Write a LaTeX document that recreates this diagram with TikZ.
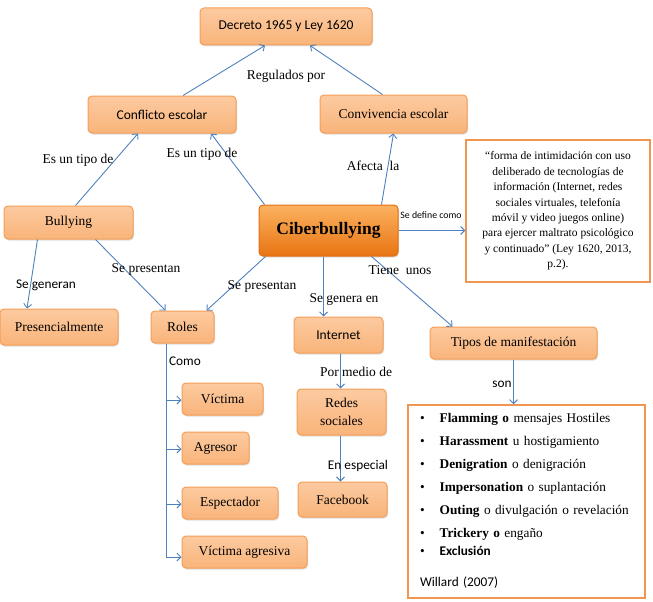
\documentclass[tikz,border=0pt]{standalone}
\usepackage{fontspec}
\setmainfont{Liberation Serif}
\newfontfamily\calibri{Carlito}
\usetikzlibrary{arrows.meta,shadows}
\definecolor{boxfill}{RGB}{249,180,122}
\definecolor{boxtop}{RGB}{252,202,160}
\definecolor{boxedge}{RGB}{244,158,88}
\definecolor{cibtop}{RGB}{252,178,96}
\definecolor{cibbot}{RGB}{232,116,18}
\definecolor{cibedge}{RGB}{226,110,20}
\definecolor{arrowblue}{RGB}{79,129,189}
\definecolor{frameorange}{RGB}{240,150,80}
\begin{document}
\begin{tikzpicture}[x=1pt, y=-1pt, >={Straight Barb[length=4pt,width=8pt]},
    main/.style = {draw=boxedge, line width=1pt, rounded corners=4pt, top color=boxtop, bottom color=boxfill,
                   inner sep=0pt, font=\fontsize{13.5}{15}\selectfont,
                   drop shadow={opacity=0.25, shadow xshift=1pt, shadow yshift=-1.5pt}},
    sans/.style = {main, font=\calibri\fontsize{13.5}{15}\selectfont},
    cib/.style = {main, draw=cibedge, top color=cibtop, bottom color=cibbot, font=\bfseries\fontsize{17.5}{20}\selectfont},
    frame/.style = {draw=frameorange, line width=1.5pt, fill=white, inner sep=0pt},
    arr/.style = {->, draw=arrowblue, line width=0.9pt},
    lbl/.style = {inner sep=0pt, font=\fontsize{13.5}{15}\selectfont},
    slbl/.style = {inner sep=0pt, font=\calibri\fontsize{13.3}{15}\selectfont}]
\useasboundingbox (0,0) rectangle (653,602);

% boxes
\node[sans, minimum width=172pt, minimum height=37pt] (dec) at (286,26.5) {Decreto 1965 y Ley 1620};
\node[sans, minimum width=148pt, minimum height=37pt] (conf) at (162,114.5) {Conflicto escolar};
\node[main, minimum width=147pt, minimum height=38pt] (conv) at (393.5,114) {Convivencia escolar};
\node[main, minimum width=129pt, minimum height=33pt] (bul) at (68.5,222.5) {Bullying};
\node[cib, minimum width=139pt, minimum height=51pt] (cib) at (328.5,230.5) {Ciberbullying};
\node[frame, minimum width=184pt, minimum height=142pt, align=center,
      font=\fontsize{11.5}{15.4}\selectfont] (def) at (558,211)
  {“forma de intimidación con uso\\ deliberado de tecnologías de\\ información (Internet, redes\\
   sociales virtuales, telefonía\\ móvil y video juegos online)\\ para ejercer maltrato psicológico\\
   y continuado" (Ley 1620, 2013,\\ p.2).};
\node[main, minimum width=118pt, minimum height=36pt] (pres) at (59,327) {Presencialmente};
\node[main, minimum width=63pt, minimum height=32pt] (roles) at (182.5,327) {Roles};
\node[sans, minimum width=89pt, minimum height=36pt] (int) at (338.5,335) {Internet};
\node[main, minimum width=167pt, minimum height=32pt] (tipos) at (513.5,343) {Tipos de manifestación};
\node[main, minimum width=81pt, minimum height=32pt] (vic) at (222.5,399) {Víctima};
\node[main, minimum width=67pt, minimum height=32pt] (agr) at (215.5,448) {Agresor};
\node[main, minimum width=96pt, minimum height=32pt] (esp) at (230,503) {Espectador};
\node[main, minimum width=125pt, minimum height=32pt] (vag) at (244.5,552) {Víctima agresiva};
\node[main, minimum width=89pt, minimum height=46pt, align=center, font=\fontsize{13.5}{18}\selectfont] (red) at (341.5,412) {Redes\\ sociales};
\node[main, minimum width=89pt, minimum height=35pt] (fb) at (342.5,499.5) {Facebook};
\node[frame, minimum width=237pt, minimum height=193pt, text width=213pt, inner xsep=12pt, align=left,
      font=\fontsize{13.3}{15.5}\selectfont] (list) at (526.5,501.5)
  {\begin{tabular}{@{}l@{\hspace{15pt}}l@{}}
   \textbullet & \textbf{Flamming o} mensajes Hostiles\\[7.5pt]
   \textbullet & \textbf{Harassment} u hostigamiento\\[7.5pt]
   \textbullet & \textbf{Denigration} o denigración\\[7.5pt]
   \textbullet & \textbf{Impersonation} o suplantación\\[7.5pt]
   \textbullet & \textbf{Outing} o divulgación o revelación\\[7.5pt]
   \textbullet & \textbf{Trickery o} engaño\\[2.5pt]
   \textbullet & {\calibri\bfseries Exclusión}\\[16pt]
   \multicolumn{2}{@{}l}{\calibri Willard (2007)}
   \end{tabular}};

% connectors
\draw[arr] ([xshift=21pt]conf.north) -- ([xshift=-21pt]dec.south);
\draw[arr] ([xshift=-11pt]conv.north) -- ([xshift=24pt]dec.south);
\draw[arr] ([xshift=7pt]bul.north) -- ([xshift=-24pt]conf.south);
\draw[arr] ([xshift=6pt]cib.north west) -- ([xshift=49pt]conf.south);
\draw[arr] ([xshift=53pt]cib.north) -- (conv.south);
\draw[arr] (cib.east) -- (cib.east -| def.west);
\draw[arr] ([xshift=43pt]cib.south) -- ([xshift=-61pt]tipos.north);
\draw[arr] ([xshift=-15pt]int.north |- cib.south) -- ([xshift=-15pt]int.north);
\draw[arr] ([xshift=7pt]cib.south west) -- ([xshift=-8pt]roles.north east);
\draw[arr] ([xshift=-31pt]bul.south) -- ([xshift=-32pt]pres.north);
\draw[arr] ([xshift=27pt]bul.south) -- ([xshift=-17pt]roles.north);
\coordinate (como) at ([xshift=-16pt]roles.south);
\draw[arr] (como) |- ([yshift=-1pt]vic.west);
\draw[arr] (como) |- ([yshift=-1pt]agr.west);
\draw[arr] (como) |- ([yshift=-1pt]esp.west);
\draw[arr] (como) |- ([yshift=-5pt]vag.west);
\draw[arr] ([xshift=2pt]int.south) -- ([xshift=2pt]int.south |- red.north);
\draw[arr] ([xshift=-1pt]red.south) -- ([xshift=-1pt]red.south |- fb.north);
\draw[arr] (tipos.south) -- (tipos.south |- list.north);

% labels
\node[lbl] (l1) at (286,76) {Regulados por};
\node[lbl] (l2) at (78,160) {Es un tipo de};
\node[lbl] (l3) at (202,154) {Es un tipo de};
\node[lbl] (l4) at (373,166) {Afecta\ \ la};
\node[slbl, font=\calibri\fontsize{9.8}{11}\selectfont] (l5) at (431,215) {Se define como};
\node[lbl] (l6) at (400,270) {Tiene\ \ unos};
\node[lbl] (l7) at (344,299) {Se genera en};
\node[lbl] (l8) at (262,286) {Se presentan};
\node[lbl] (l9) at (146,269) {Se presentan};
\node[slbl] (l10) at (46,285) {Se generan};
\node[slbl] (l11) at (185,361) {Como};
\node[lbl] (l12) at (356,372) {Por medio de};
\node[slbl] (l13) at (358,466) {En especial};
\node[slbl] (l14) at (502,384) {son};
\end{tikzpicture}
\end{document}
